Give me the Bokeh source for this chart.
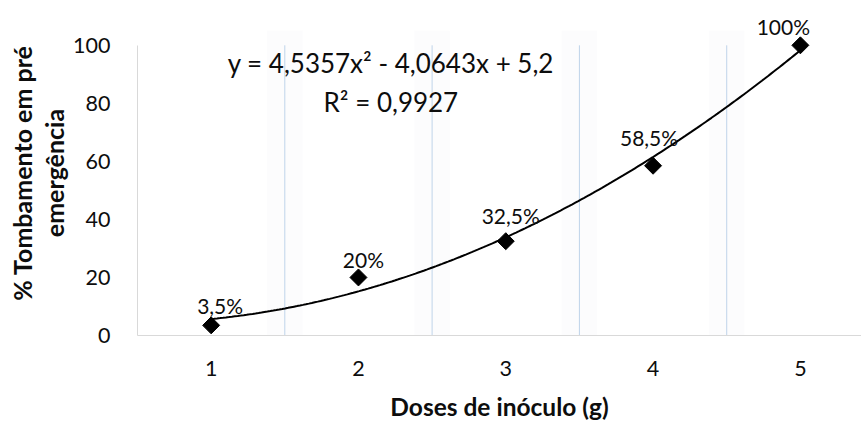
import numpy as np
from bokeh.plotting import figure
from bokeh.models import Range1d, FixedTicker, Label
from bokeh.core.properties import value
from bokeh.embed import file_html
from bokeh.resources import INLINE

# Data: pre-emergence damping-off (%) by inoculum dose (g)
doses = [1, 2, 3, 4, 5]
tombamento = [3.5, 20, 32.5, 58.5, 100]
point_labels = ["3,5%", "20%", "32,5%", "58,5%", "100%"]
y_ticks = [0, 20, 40, 60, 80, 100]
x_tick_labels = {1: "1", 2: "2", 3: "3", 4: "4", 5: "5"}

# Quadratic trendline coefficients (a x² + b x + c) and its R²
trend_a, trend_b, trend_c = 4.5357, -4.0643, 5.2
equation_text = "y = 4,5357x² - 4,0643x + 5,2"
r2_text = "R² = 0,9927"

FONT = "Lato"
TEXT_COLOR = "#0d0d0d"
AXIS_COLOR = "#d9d9d9"
GRID_COLOR = "#bfd4ea"

p = figure(
    width=861, height=423,
    x_range=Range1d(0.5, 5.415), y_range=Range1d(0, 112),
    output_backend="svg", toolbar_location=None,
    min_border_left=137, min_border_right=0,
    min_border_top=10, min_border_bottom=88,
)
p.outline_line_color = None
p.background_fill_color = "white"
p.border_fill_color = "white"
p.xgrid.visible = False
p.ygrid.visible = False

# vertical separators between dose categories (0-100 only), with a faint glow
sep = [1.5, 2.5, 3.5, 4.5]
half = 0.12
p.quad(left=[s - half for s in sep], right=[s + half for s in sep],
       bottom=0, top=105, fill_color="#f3f5f9", fill_alpha=0.25, line_color=None)
p.segment(x0=sep, y0=[0] * len(sep), x1=sep, y1=[100] * len(sep),
          line_color=GRID_COLOR, line_width=1)

# trendline from the fitted equation
xs = np.linspace(1, 5, 200)
ys = trend_a * xs ** 2 + trend_b * xs + trend_c
p.line(xs, ys, line_color="black", line_width=2)

# observed points
p.scatter(doses, tombamento, marker="square", angle=np.pi / 4, size=12,
          fill_color="black", line_color="black")

# value labels above the points (pixel nudges)
label_dx = [9, 5, 5, -4, -17]
label_dy = [-20, -18, -26, -28, -19]
p.text(x=doses, y=tombamento, text=point_labels, x_offset=label_dx, y_offset=label_dy,
       text_align="center", text_baseline="middle",
       text_font=value(FONT), text_font_size="21px", text_color=TEXT_COLOR)

# equation and R²
for txt, yy in [(equation_text, 93.8), (r2_text, 80.5)]:
    p.add_layout(Label(x=2.22, y=yy, text=txt, text_align="center", text_baseline="middle",
                       text_font=FONT, text_font_size="26px", text_color=TEXT_COLOR))

# axes
for ax in (p.xaxis[0], p.yaxis[0]):
    ax.axis_line_color = AXIS_COLOR
    ax.axis_line_width = 1
    ax.major_tick_line_color = None
    ax.minor_tick_line_color = None
    ax.major_tick_in = 0
    ax.major_tick_out = 0
    ax.minor_tick_in = 0
    ax.minor_tick_out = 0
    ax.major_label_text_font = FONT
    ax.major_label_text_font_size = "21.5px"
    ax.major_label_text_color = TEXT_COLOR
    ax.axis_label_text_font = FONT
    ax.axis_label_text_font_style = "bold"
    ax.axis_label_text_color = TEXT_COLOR

p.xaxis.ticker = FixedTicker(ticks=doses)
p.xaxis.major_label_overrides = x_tick_labels
p.xaxis.major_label_standoff = 25
p.xaxis.axis_label = "Doses de inóculo (g)"
p.xaxis.axis_label_text_font_size = "24.5px"
p.xaxis.axis_label_standoff = 13

p.yaxis.ticker = FixedTicker(ticks=y_ticks)
p.yaxis.bounds = (0, 100)
p.yaxis.major_label_standoff = 27
p.yaxis.axis_label = "% Tombamento em pré\nemergência"
p.yaxis.axis_label_text_font_size = "25px"
p.yaxis.axis_label_standoff = 1
p.yaxis.axis_label_text_line_height = 1.07

open("out.html", "w").write(file_html(p, INLINE))
